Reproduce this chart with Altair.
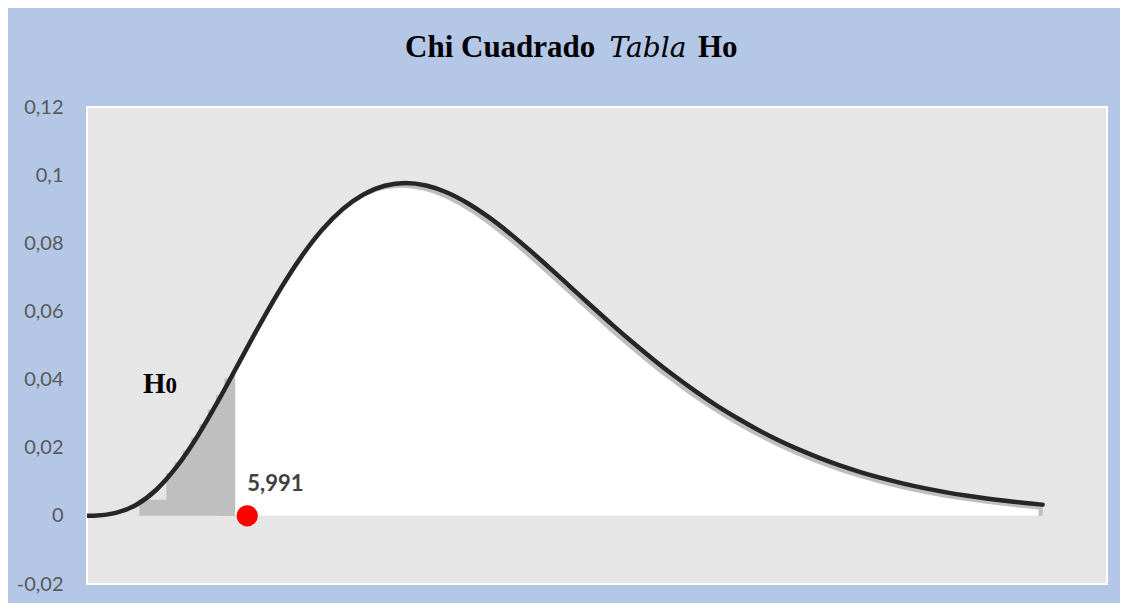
import altair as alt
import pandas as pd

# ---- data ----
x_vals = [0, 0.5, 1, 1.5, 2, 2.5, 3, 3.5, 4, 4.5, 5, 5.5, 6, 6.5, 7, 7.5, 8, 8.5,
          9, 9.5, 10, 10.5, 11, 11.5, 12, 12.5, 13, 13.5, 14, 14.5, 15, 15.5, 16,
          16.5, 17, 17.5, 18, 18.5, 19, 19.5, 20, 20.5, 21, 21.5, 22, 22.5, 23, 23.35]
pdf_vals = [0.0, 0.00006, 0.00079, 0.00311, 0.00766, 0.01457, 0.02353, 0.03395,
            0.04511, 0.05628, 0.06680, 0.07617, 0.08402, 0.09012, 0.09441, 0.09689,
            0.09768, 0.09695, 0.09490, 0.09176, 0.08773, 0.08305, 0.07791, 0.07249,
            0.06693, 0.06137, 0.05591, 0.05064, 0.04561, 0.04088, 0.03646, 0.03237,
            0.02863, 0.02521, 0.02213, 0.01935, 0.01687, 0.01466, 0.01270, 0.01098,
            0.00946, 0.00813, 0.00697, 0.00597, 0.00509, 0.00434, 0.00369, 0.00329]

shade_x = [1.59, 2.24, 2.44, 2.64, 2.84, 3.04, 3.24, 3.44, 3.64, 3.88]
shade_y = [0.0047, 0.01256, 0.01572, 0.01919, 0.02295, 0.02695, 0.03116, 0.03549, 0.04038, 0.04038]

crit_x = [4.19]
crit_y = [0.0]
crit_label = ["5,991"]

h_x = [1.68]
h_sub_x = [2.22]
h_y = [0.0361]

title_parts = ["Chi Cuadrado", "Tabla", "Ho"]

y_ticks = [-0.02, 0, 0.02, 0.04, 0.06, 0.08, 0.1, 0.12]
x_domain = [0.33, 24.9]
y_domain = [-0.02, 0.12]

curve = pd.DataFrame({"x": x_vals, "y": pdf_vals})
shade = pd.DataFrame({"x": shade_x, "y": shade_y})
crit = pd.DataFrame({"x": crit_x, "y": crit_y, "t": crit_label})
hlab = pd.DataFrame({"x": h_x, "xs": h_sub_x, "y": h_y})

xs = alt.Scale(domain=x_domain, nice=False, zero=False)
ys = alt.Scale(domain=y_domain, nice=False, zero=False)
yaxis = alt.Axis(
    title=None, values=y_ticks, grid=False, domain=False, ticks=False,
    labelPadding=24, labelFont="Lato", labelFontSize=20, labelColor="#595959",
    labelExpr="replace('' + datum.value, '.', ',')",
)


def Y(field):
    return alt.Y(field, scale=ys, axis=yaxis)


def X(field):
    return alt.X(field, scale=xs, axis=None)


shadow = alt.Chart(curve).transform_filter("datum.x >= 3.5").mark_area(
    color="#bfbfbf", interpolate="monotone"
).encode(x=X("x:Q"), y=Y("y:Q"), y2=alt.datum(0))

h0_shade = alt.Chart(shade).mark_area(
    color="#bfbfbf", interpolate="step-after"
).encode(x=X("x:Q"), y=Y("y:Q"), y2=alt.datum(0))

white = alt.Chart(curve).transform_filter("datum.x >= 4").transform_calculate(
    xw="datum.x - 0.1", yw="datum.y - 0.0014"
).mark_area(color="white", interpolate="monotone").encode(
    x=X("xw:Q"), y=Y("yw:Q"), y2=alt.datum(0)
)

line = alt.Chart(curve).mark_line(
    color="#262626", strokeWidth=4.5, interpolate="monotone", clip=True, strokeCap="round"
).encode(x=X("x:Q"), y=Y("y:Q"))

dot = alt.Chart(crit).mark_circle(color="#ff0000", size=450, opacity=1).encode(
    x=X("x:Q"), y=Y("y:Q")
)

dot_label = alt.Chart(crit).mark_text(
    align="left", baseline="alphabetic", dy=-25, font="Lato", fontWeight="bold",
    fontSize=22, color="#404040"
).encode(x=X("x:Q"), y=Y("y:Q"), text="t:N")

h_text = alt.Chart(hlab).mark_text(
    align="left", baseline="alphabetic", font="Liberation Serif", fontWeight="bold",
    fontSize=29, color="black"
).encode(x=X("x:Q"), y=Y("y:Q"), text=alt.value("H"))

h_sub = alt.Chart(hlab).mark_text(
    align="left", baseline="alphabetic", font="Liberation Serif", fontWeight="bold",
    fontSize=23, color="black"
).encode(x=X("xs:Q"), y=Y("y:Q"), text=alt.value("0"))

t1 = alt.Chart(pd.DataFrame({"t": [title_parts[0]]})).mark_text(
    align="left", baseline="alphabetic", font="Liberation Serif", fontWeight="bold",
    fontSize=31, color="black"
).encode(x=alt.value(318), y=alt.value(-50), text="t:N")

t2 = alt.Chart(pd.DataFrame({"t": [title_parts[1]]})).mark_text(
    align="center", baseline="alphabetic", font="DejaVu Serif", fontStyle="italic",
    fontSize=28, color="black"
).encode(x=alt.value(561), y=alt.value(-50), text="t:N")

t3 = alt.Chart(pd.DataFrame({"t": [title_parts[2]]})).mark_text(
    align="left", baseline="alphabetic", font="Liberation Serif", fontWeight="bold",
    fontSize=31, color="black"
).encode(x=alt.value(611), y=alt.value(-50), text="t:N")

chart = alt.layer(
    shadow, h0_shade, white, line, dot, dot_label, h_text, h_sub, t1, t2, t3
).properties(
    width=1020, height=477,
    autosize=alt.AutoSizeParams(type="none"),
    padding={"left": 79, "top": 99, "right": 13, "bottom": 19},
    background="#b4c7e7",
).configure_view(fill="#e7e6e6", stroke="white", strokeWidth=2)

chart.save("out.html", embed_options={"renderer": "svg", "actions": False})
